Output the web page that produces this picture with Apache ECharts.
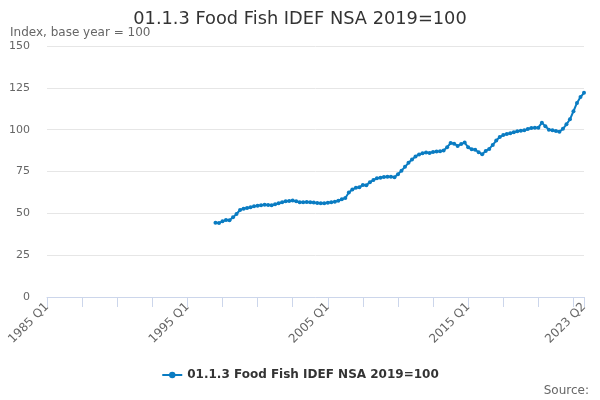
<!DOCTYPE html>
<html>
<head>
<meta charset="utf-8">
<script src="https://cdn.jsdelivr.net/npm/echarts@6/dist/echarts.min.js"></script>
<style>
  html, body { margin: 0; padding: 0; background: #fff; }
  #main { width: 600px; height: 400px; }
</style>
</head>
<body>
<div id="main"></div>
<script>
// quarters on the axis
var firstYear = 1985;
var lastYear = 2023;
var lastQuarter = 2;
// series starts here (earlier quarters have no data)
var seriesStart = '1997 Q1';
var seriesName = '01.1.3 Food Fish IDEF NSA 2019=100';

// index values, 1997 Q1 .. 2023 Q2
var values = [
    44.4, 44.2, 45.2, 46.0, 45.8, 47.6, 49.6, 52.0, 52.8, 53.2,
    53.6, 54.2, 54.6, 54.8, 55.2, 55.0, 54.8, 55.4, 56.0, 56.6,
    57.2, 57.4, 57.6, 57.2, 56.6, 56.6, 56.8, 56.6, 56.4, 56.2,
    56.0, 56.0, 56.3, 56.6, 56.9, 57.5, 58.4, 59.2, 62.5, 64.2,
    65.3, 65.6, 67.0, 66.8, 68.6, 69.9, 71.0, 71.3, 71.7, 71.9,
    71.8, 71.5, 73.4, 75.5, 77.8, 80.2, 82.2, 84.0, 85.2, 85.9,
    86.3, 86.1, 86.7, 86.9, 87.1, 87.6, 89.5, 92.0, 91.6, 90.3,
    91.4, 92.3, 89.5, 88.3, 88.0, 86.5, 85.3, 87.3, 88.5, 90.9,
    93.5, 95.6, 96.8, 97.4, 97.9, 98.5, 99.0, 99.4, 99.6, 100.4,
    101.0, 101.2, 101.2, 104.2, 102.0, 100.0, 99.6, 99.2, 98.7, 100.5,
    103.2, 106.2, 111.0, 116.0, 119.5, 122.0
];

var categories = [];
for (var y = firstYear; y <= lastYear; y++) {
    for (var q = 1; q <= 4; q++) {
        if (y === lastYear && q > lastQuarter) break;
        categories.push(y + ' Q' + q);
    }
}
var lastIdx = categories.length - 1;
var startIdx = categories.indexOf(seriesStart);
var seriesData = categories.map(function (c, i) {
    return i < startIdx ? null : values[i - startIdx];
});

var myChart = echarts.init(document.getElementById('main'));
var grey = '#666666';
var font = 'DejaVu Sans';

var option = {
    animation: false,
    textStyle: { fontFamily: font },
    title: [
        {
            text: seriesName,
            left: 'center',
            top: 10,
            padding: 0,
            textStyle: { fontSize: 17.8, fontWeight: 'normal', color: '#333333', fontFamily: font }
        },
        {
            text: 'Index, base year = 100',
            left: 10,
            top: 27,
            padding: 0,
            textStyle: { fontSize: 12, fontWeight: 'normal', color: grey, fontFamily: font }
        },
        {
            text: 'Source:',
            right: 11,
            top: 385,
            padding: 0,
            textStyle: { fontSize: 12, fontWeight: 'normal', color: grey, fontFamily: font }
        }
    ],
    legend: {
        bottom: 14,
        left: 'center',
        itemWidth: 20,
        itemHeight: 8,
        textStyle: { fontSize: 12, fontWeight: 'bold', color: '#333333', fontFamily: font },
        data: [seriesName]
    },
    grid: { left: 47, right: 16, top: 46, bottom: 103 },
    xAxis: {
        type: 'category',
        data: categories,
        boundaryGap: false,
        axisLine: { lineStyle: { color: '#ccd6eb' } },
        axisTick: {
            length: 10,
            lineStyle: { color: '#ccd6eb' },
            interval: function (i) { return i % 10 === 0 || i === lastIdx; }
        },
        axisLabel: {
            rotate: 45,
            color: grey,
            fontSize: 12,
            margin: 8,
            interval: function (i) { return i % 40 === 0 || i === lastIdx; }
        },
        splitLine: { show: false }
    },
    yAxis: {
        type: 'value',
        min: 0,
        max: 150,
        interval: 25,
        axisLine: { show: false },
        axisTick: { show: false },
        axisLabel: { color: grey, fontSize: 11, margin: 17 },
        splitLine: { lineStyle: { color: '#e6e6e6' } }
    },
    series: [
        {
            name: seriesName,
            type: 'line',
            data: seriesData,
            showAllSymbol: true,
            symbol: 'circle',
            symbolSize: 4,
            itemStyle: { color: '#0a7cc2' },
            lineStyle: { width: 2, color: '#0a7cc2' }
        }
    ]
};

myChart.setOption(option);
</script>
</body>
</html>
